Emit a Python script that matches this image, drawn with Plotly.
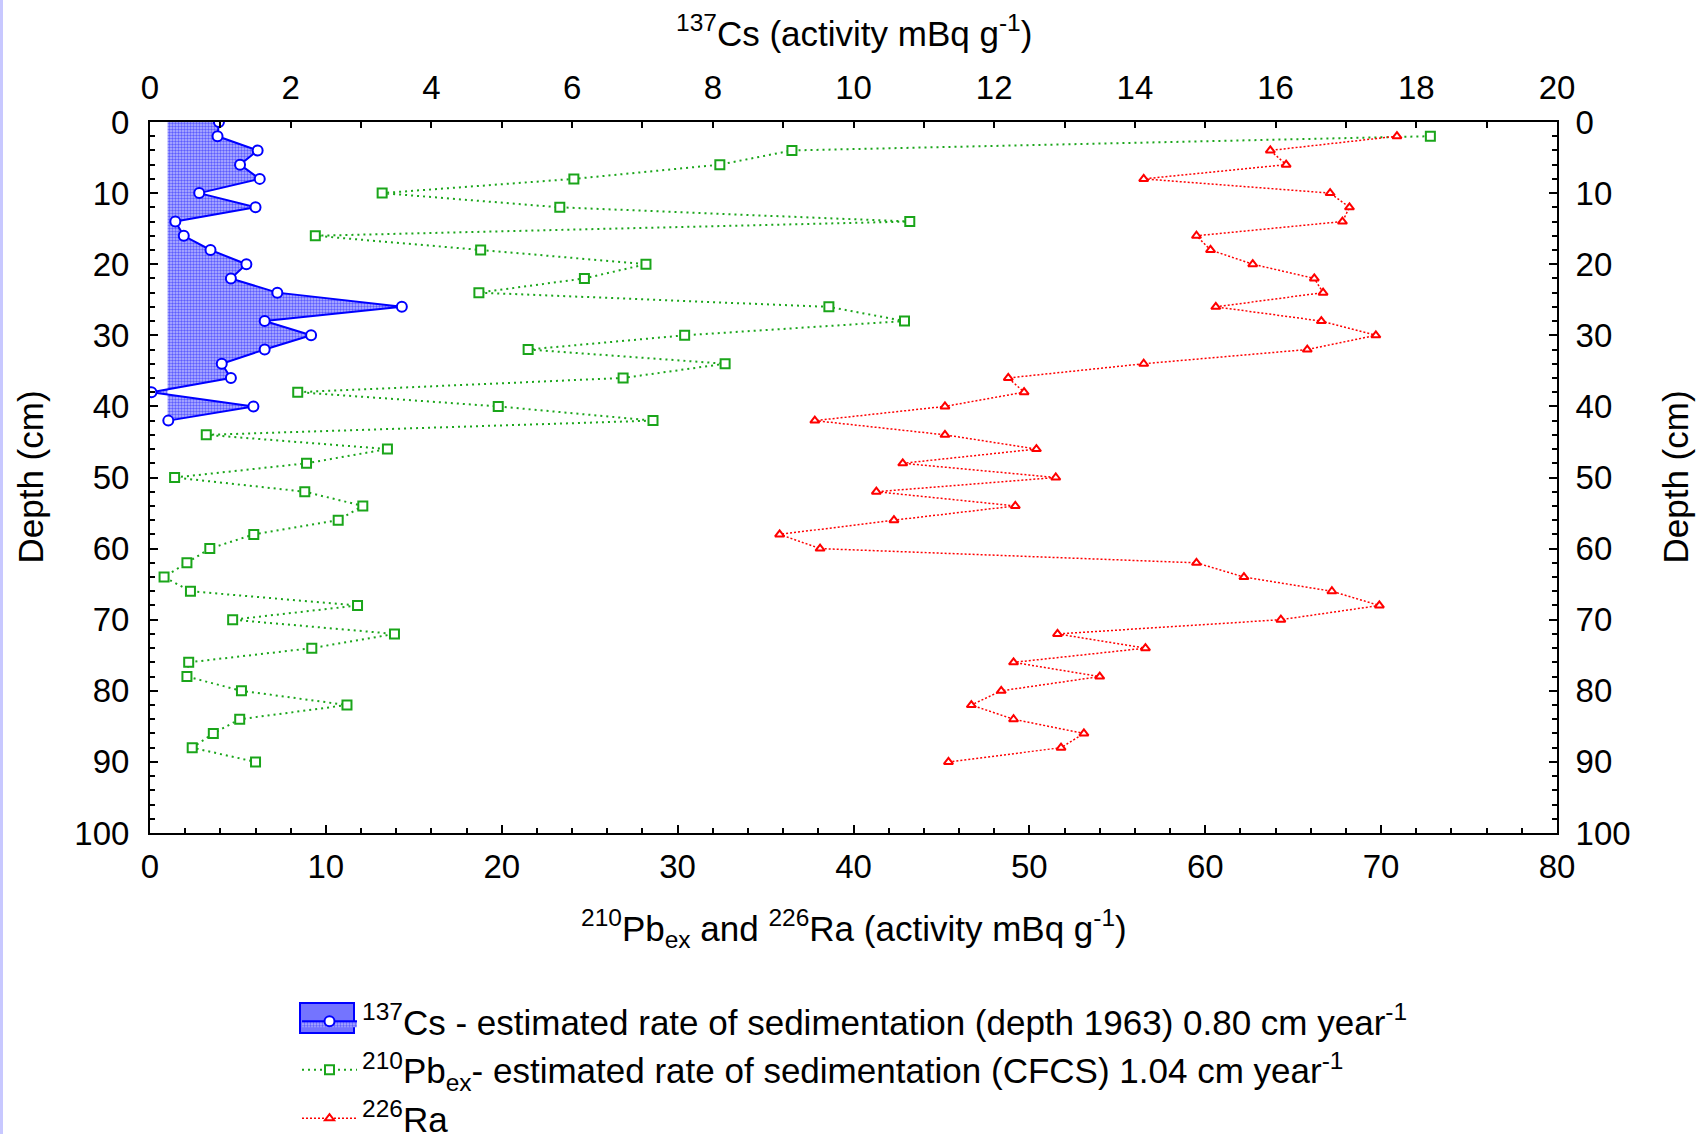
import plotly.graph_objects as go

# Sediment core profile: 137Cs (top axis) and 210Pb_ex / 226Ra (bottom axis) versus depth

cs_depth = [0, 2, 4, 6, 8, 10, 12, 14, 16, 18, 20, 22, 24, 26, 28, 30, 32, 34, 36, 38, 40, 42]
cs_activity = [0.98, 0.96, 1.53, 1.28, 1.56, 0.70, 1.50, 0.36, 0.48, 0.86, 1.37, 1.15,
               1.81, 3.58, 1.63, 2.29, 1.63, 1.02, 1.15, 0.02, 1.47, 0.26]

depth = [2, 4, 6, 8, 10, 12, 14, 16, 18, 20, 22, 24, 26, 28, 30, 32, 34, 36, 38, 40, 42, 44,
         46, 48, 50, 52, 54, 56, 58, 60, 62, 64, 66, 68, 70, 72, 74, 76, 78, 80, 82, 84, 86, 88, 90]
pb_ex = [72.8, 36.5, 32.4, 24.1, 13.2, 23.3, 43.2, 9.4, 18.8, 28.2, 24.7, 18.7, 38.6, 42.9,
         30.4, 21.5, 32.7, 26.9, 8.4, 19.8, 28.6, 3.2, 13.5, 8.9, 1.4, 8.8, 12.1, 10.7, 5.9,
         3.4, 2.1, 0.8, 2.3, 11.8, 4.7, 13.9, 9.2, 2.2, 2.1, 5.2, 11.2, 5.1, 3.6, 2.4, 6.0]
ra226 = [70.9, 63.7, 64.6, 56.5, 67.1, 68.2, 67.8, 59.5, 60.3, 62.7, 66.2, 66.7, 60.6, 66.6,
         69.7, 65.8, 56.5, 48.8, 49.7, 45.2, 37.8, 45.2, 50.4, 42.8, 51.5, 41.3, 49.2, 42.3,
         35.8, 38.1, 59.5, 62.2, 67.2, 69.9, 64.3, 51.6, 56.6, 49.1, 54.0, 48.4, 46.7, 49.1,
         53.1, 51.8, 45.4]

depth_ticks = [0, 10, 20, 30, 40, 50, 60, 70, 80, 90, 100]
bottom_ticks = [0, 10, 20, 30, 40, 50, 60, 70, 80]
top_ticks = [0, 2, 4, 6, 8, 10, 12, 14, 16, 18, 20]

CS_FILL_BASE = 0.25  # left edge of the shaded Cs area (top-axis units)

FONT = "Liberation Sans, Arial, sans-serif"
BLUE = "#0000ff"
GREEN = "#1aa51a"
RED = "#ff0000"
CS_FILL = "rgba(70,70,255,0.75)"

W, H = 1696, 1134
L, R, T, B = 150, 139, 122, 301
PW, PH = W - L - R, H - T - B


def px_x(px):
    """Page pixel column -> paper x."""
    return (px - L) / PW


def px_y(py):
    """Page pixel row (from top) -> paper y."""
    return (H - B - py) / PH


fig = go.Figure()

# baseline for the shaded Cs area
fig.add_trace(go.Scatter(
    x=[CS_FILL_BASE] * len(cs_depth), y=cs_depth, xaxis="x2", yaxis="y",
    mode="lines", line=dict(width=0, color=BLUE), showlegend=False, hoverinfo="skip"))

fig.add_trace(go.Scatter(
    x=cs_activity, y=cs_depth, xaxis="x2", yaxis="y",
    mode="lines+markers", fill="tonextx",
    fillcolor=CS_FILL,
    fillpattern=dict(shape=".", fgcolor=BLUE, bgcolor="#b8b8ff", size=3, solidity=0.5),
    line=dict(color=BLUE, width=2),
    marker=dict(symbol="circle", size=10, color="white", line=dict(color=BLUE, width=2)),
    name="<sup>137</sup>Cs - estimated rate of sedimentation (depth 1963) 0.80 cm year<sup>-1</sup>",
    legendgroup="cs"))

fig.add_trace(go.Scatter(
    x=pb_ex, y=depth, xaxis="x", yaxis="y",
    mode="lines+markers",
    line=dict(color=GREEN, width=2, dash="2px,4px"),
    marker=dict(symbol="square", size=9, color="white", line=dict(color=GREEN, width=2)),
    name="<sup>210</sup>Pb<sub>ex</sub>- estimated rate of sedimentation (CFCS) 1.04 cm year<sup>-1</sup>",
    legendgroup="pb"))

fig.add_trace(go.Scatter(
    x=ra226, y=depth, xaxis="x", yaxis="y",
    mode="lines+markers",
    line=dict(color=RED, width=1.5, dash="2px,2px"),
    marker=dict(symbol="triangle-up", size=8, color="white", line=dict(color=RED, width=2)),
    name="<sup>226</sup>Ra",
    legendgroup="ra"))

# anchor for the right-hand depth axis
fig.add_trace(go.Scatter(x=[None], y=[None], xaxis="x", yaxis="y2",
                         showlegend=False, hoverinfo="skip"))

axis_common = dict(showline=True, linecolor="black", linewidth=2, ticks="inside",
                   tickcolor="black", tickwidth=2, showgrid=False, zeroline=False,
                   tickfont=dict(family=FONT, size=33, color="black"))
minor_ticks = dict(ticks="inside", ticklen=5, tickcolor="black", tickwidth=2)

fig.update_layout(
    width=W, height=H,
    margin=dict(l=L, r=R, t=T, b=B, autoexpand=False),
    paper_bgcolor="white", plot_bgcolor="white",
    font=dict(family=FONT, size=33, color="black"),
    xaxis=dict(range=[0, 80], tickvals=bottom_ticks, ticklen=8,
               minor=dict(dtick=2, **minor_ticks),
               ticklabelstandoff=3, **axis_common),
    xaxis2=dict(range=[0, 20], overlaying="x", side="top", anchor="y", tickvals=top_ticks,
                ticklen=6, minor=dict(dtick=1, **dict(minor_ticks, ticklen=6)),
                ticklabelstandoff=8, **axis_common),
    yaxis=dict(range=[100, 0], tickvals=depth_ticks, ticklen=8,
               minor=dict(dtick=2, **minor_ticks),
               ticklabelstandoff=12, **axis_common),
    yaxis2=dict(range=[100, 0], overlaying="y", side="right", anchor="x", tickvals=depth_ticks,
                ticklen=8, minor=dict(dtick=2, **minor_ticks),
                ticklabelstandoff=10, **axis_common),
    legend=dict(x=px_x(297), y=px_y(992), xanchor="left", yanchor="top",
                bgcolor="rgba(0,0,0,0)", font=dict(family=FONT, size=35, color="black"),
                itemwidth=55, tracegroupgap=0),
    showlegend=True,
)

title_font = dict(family=FONT, size=35, color="black")
fig.add_annotation(text="<sup>137</sup>Cs (activity mBq g<sup>-1</sup>)", xref="paper", yref="paper",
                   x=0.5, y=px_y(31), xanchor="center", yanchor="middle",
                   showarrow=False, font=title_font)
fig.add_annotation(text="<sup>210</sup>Pb<sub>ex</sub> and <sup>226</sup>Ra (activity mBq g<sup>-1</sup>)",
                   xref="paper", yref="paper", x=0.5, y=px_y(928),
                   xanchor="center", yanchor="middle", showarrow=False, font=title_font)
fig.add_annotation(text="Depth (cm)", xref="paper", yref="paper", x=px_x(30), y=0.5,
                   xanchor="center", yanchor="middle", textangle=-90, showarrow=False,
                   font=title_font)
fig.add_annotation(text="Depth (cm)", xref="paper", yref="paper", x=px_x(1675), y=0.5,
                   xanchor="center", yanchor="middle", textangle=-90, showarrow=False,
                   font=title_font)

# shaded swatch behind the Cs legend symbol
fig.add_shape(type="rect", xref="paper", yref="paper",
              x0=px_x(300), x1=px_x(354), y0=px_y(1033), y1=px_y(1003),
              line=dict(width=2, color=BLUE), fillcolor=CS_FILL, layer="below")

# lavender strip along the left edge of the page
fig.add_shape(type="rect", xref="paper", yref="paper",
              x0=px_x(0), x1=px_x(3), y0=px_y(H + 20), y1=px_y(-20),
              line=dict(width=0), fillcolor="#c8c8ff", layer="below")

fig.write_html("out.html")
